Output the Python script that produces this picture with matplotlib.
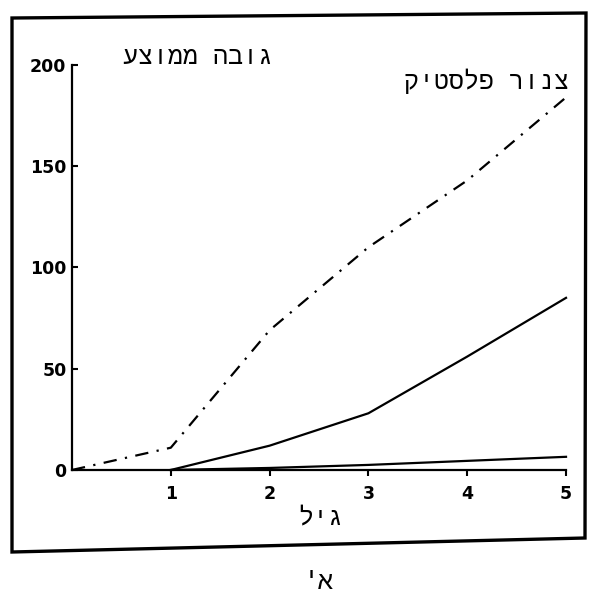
import matplotlib.pyplot as plt
from matplotlib.patches import Polygon

# === Data ===
age = [0, 1, 2, 3, 4, 5]
plastic_pipe = [0, 11, 69, 110, 143, 184]      # dash-dot curve
age_solid = [1, 2, 3, 4, 5]
solid_curve = [0, 12, 28, 56, 85]
low_curve = [0, 1, 2.5, 4.5, 6.5]

x_ticks = [1, 2, 3, 4, 5]
y_ticks = [0, 50, 100, 150, 200]

ylabel_text = 'גובה ממוצע'
xlabel_text = 'גיל'
series_text = 'צנור פלסטיק'
caption_text = "א'"


def rtl(s):
    # matplotlib has no bidi support, so flip Hebrew into visual order
    return s[::-1]


HEB = ['Liberation Mono', 'DejaVu Sans Mono', 'DejaVu Sans']

# === Figure ===
fig = plt.figure(figsize=(5.96, 5.94), dpi=100)
ax = fig.add_axes([0.1208, 0.2088, 0.8289, 0.6818])

ax.plot(age, plastic_pipe, color='black', linewidth=1.6,
        linestyle=(0, (6, 3.8, 1, 3.8)), clip_on=False)
ax.plot(age_solid, solid_curve, color='black', linewidth=1.6, clip_on=False)
ax.plot(age_solid, low_curve, color='black', linewidth=1.6, clip_on=False)

ax.set_xlim(0, 5)
ax.set_ylim(0, 200)
ax.set_xticks(x_ticks)
ax.set_yticks(y_ticks)

for side in ['top', 'right']:
    ax.spines[side].set_visible(False)
for side in ['left', 'bottom']:
    ax.spines[side].set_linewidth(1.6)

ax.tick_params(axis='x', direction='out', length=4, width=1.5, pad=7)
ax.tick_params(axis='y', direction='in', length=4, width=1.5, pad=4)
for lbl in ax.get_xticklabels() + ax.get_yticklabels():
    lbl.set_fontfamily('DejaVu Sans')
    lbl.set_fontweight('bold')
    lbl.set_fontsize(12.5)

# Hebrew labels
ax.set_ylabel(rtl(ylabel_text), rotation=0, family=HEB, fontsize=18,
              ha='center', va='center')
ax.yaxis.set_label_coords(0.255, 1.02)
ax.set_xlabel(rtl(xlabel_text), family=HEB, fontsize=18, ha='center', va='center')
ax.xaxis.set_label_coords(0.504, -0.118)
ax.text(0.84, 0.96, rtl(series_text), transform=ax.transAxes, family=HEB,
        fontsize=18, ha='center', va='center')
fig.text(0.534, 0.02, rtl(caption_text), family=HEB, fontsize=18,
         ha='center', va='center')

# outer frame (slightly skewed like the scan)
frame_px = [(12, 18), (586, 13), (585, 538), (12, 552)]
frame = Polygon([(x / 596, 1 - y / 594) for x, y in frame_px], closed=True,
                fill=False, edgecolor='black', linewidth=2.4,
                transform=fig.transFigure)
fig.patches.append(frame)

plt.savefig('out.png', dpi=100)
plt.close()
